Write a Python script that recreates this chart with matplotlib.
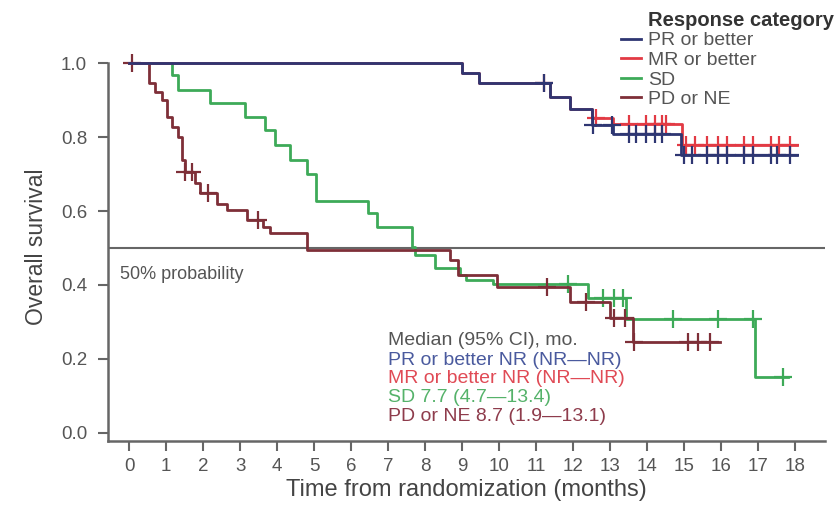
import numpy as np
import matplotlib
matplotlib.use("Agg")
import matplotlib.pyplot as plt

plt.rcParams['font.family'] = ['Liberation Sans', 'DejaVu Sans']

# step times (months) and survival after each step
pr_t = [0, 9.0, 9.45, 11.36, 11.9, 12.5, 13.06, 14.9]
pr_s = [1.0, 0.972, 0.945, 0.909, 0.876, 0.832, 0.808, 0.751]
pr_end = 18.05
pr_cens = [11.2, 12.52, 13.05, 13.5, 13.7, 13.95, 14.2, 14.4, 15.0, 15.2, 15.6,
           15.9, 16.15, 16.6, 16.85, 17.35, 17.5, 17.85]

mr_t = [0, 9.0, 9.45, 11.36, 11.9, 12.5, 13.06, 14.93]
mr_s = [1.0, 0.972, 0.945, 0.909, 0.876, 0.852, 0.836, 0.778]
mr_end = 18.05
mr_cens = [11.2, 12.6, 13.5, 13.95, 14.2, 14.4, 14.5, 15.05, 15.3, 15.6, 15.9,
           16.15, 16.6, 16.85, 17.35, 17.55, 17.85]

sd_t = [0, 1.15, 1.33, 2.19, 3.13, 3.67, 3.94, 4.35, 4.8, 5.04, 6.46, 6.7, 7.63,
        7.72, 8.26, 8.93, 9.11, 9.83, 12.4, 13.43, 16.9]
sd_s = [1.0, 0.968, 0.927, 0.891, 0.855, 0.819, 0.778, 0.738, 0.70, 0.627, 0.594,
        0.556, 0.502, 0.481, 0.445, 0.427, 0.413, 0.402, 0.365, 0.307, 0.152]
sd_end = 17.8
sd_cens = [11.85, 12.8, 13.1, 13.35, 14.7, 15.9, 16.85, 17.66]

pd_t = [0, 0.55, 0.70, 0.88, 1.02, 1.15, 1.33, 1.42, 1.51, 1.78, 1.92, 2.37, 2.64,
        3.18, 3.62, 3.81, 4.8, 8.66, 8.89, 9.93, 11.9, 12.98, 13.6]
pd_s = [1.0, 0.945, 0.922, 0.90, 0.855, 0.828, 0.80, 0.738, 0.706, 0.675, 0.648,
        0.62, 0.603, 0.576, 0.558, 0.54, 0.495, 0.468, 0.427, 0.395, 0.355, 0.31, 0.247]
pd_end = 15.95
pd_cens = [0.08, 1.51, 1.69, 2.14, 3.49, 11.3, 12.35, 13.1, 13.4, 13.65, 15.1, 15.36, 15.68]

labels = ["PR or better", "MR or better", "SD", "PD or NE"]
colors = ["#2e3672", "#e23a44", "#3daa58", "#7e2f38"]
median_lines = ["PR or better NR (NR\u2014NR)", "MR or better NR (NR\u2014NR)",
                "SD 7.7 (4.7\u201413.4)", "PD or NE 8.7 (1.9\u201413.1)"]
median_colors = ["#4a5a9e", "#e04a55", "#55b26a", "#8e3c4c"]

groups = [(pr_t, pr_s, pr_end, pr_cens), (mr_t, mr_s, mr_end, mr_cens),
          (sd_t, sd_s, sd_end, sd_cens), (pd_t, pd_s, pd_end, pd_cens)]
zorders = [6, 5, 3, 4]

fig = plt.figure(figsize=(8.4, 5.13), dpi=100)
ax = fig.add_axes([0.1286, 0.1404, 0.8536, 0.7582])

ax.axhline(0.5, color="#666666", lw=1.5, zorder=1)

handles = {}
for i in range(4):
    t, s, end, cens = groups[i]
    tt = np.append(t, end)
    ss = np.append(s, s[-1])
    h, = ax.step(tt, ss, where="post", color=colors[i], lw=2.0, zorder=zorders[i],
                 clip_on=False)
    handles[i] = h
    idx = np.searchsorted(t, cens, side="right") - 1
    ax.plot(cens, np.array(s)[idx], ls="none", marker="+", ms=13, mew=1.6,
            color=colors[i], zorder=zorders[i], clip_on=False)

ax.set_xlim(-0.57, 18.8)
ax.set_ylim(-0.022, 1.03)
ax.set_xticks(range(0, 19))
ax.set_yticks([0.0, 0.2, 0.4, 0.6, 0.8, 1.0])
ax.set_yticklabels(["0.0", "0.2", "0.4", "0.6", "0.8", "1.0"])
for side in ["top", "right"]:
    ax.spines[side].set_visible(False)
for side in ["left", "bottom"]:
    ax.spines[side].set_color("#666666")
    ax.spines[side].set_linewidth(1.8)
ax.spines["left"].set_bounds(-0.022, 1.0)
ax.tick_params(axis="both", colors="#666666", labelsize=13.5, length=7, width=1.5)
ax.tick_params(axis="y", pad=8)
ax.tick_params(axis="x", pad=5)
for lab in ax.get_xticklabels() + ax.get_yticklabels():
    lab.set_color("#555555")

ax.set_xlabel("Time from randomization (months)", fontsize=17, color="#444444", labelpad=3)
ax.set_ylabel("Overall survival", fontsize=16.5, color="#444444", labelpad=9)

ax.text(-0.24, 0.427, "50% probability", fontsize=13, color="#555555", va="center")

ax.text(7.0, 0.251, "Median (95% CI), mo.", fontsize=14, color="#555555", va="center")
for k, (txt, c) in enumerate(zip(median_lines, median_colors)):
    ax.text(7.0, 0.197 - k * 0.051, txt, fontsize=14, color=c, va="center")

fig.text(648 / 840, 1 - 20 / 513, "Response category", fontsize=14.5, fontweight="bold",
         color="#333333", va="center", ha="left")
leg = fig.legend([handles[i] for i in range(4)], labels, loc="upper left",
                 bbox_to_anchor=(0.728, 0.957), frameon=False, fontsize=14,
                 handlelength=1.0, handletextpad=0.4,
                 labelspacing=0.1, borderaxespad=0.3, borderpad=0.2)
for txt in leg.get_texts():
    txt.set_color("#555555")

fig.savefig("out.png", dpi=100)
